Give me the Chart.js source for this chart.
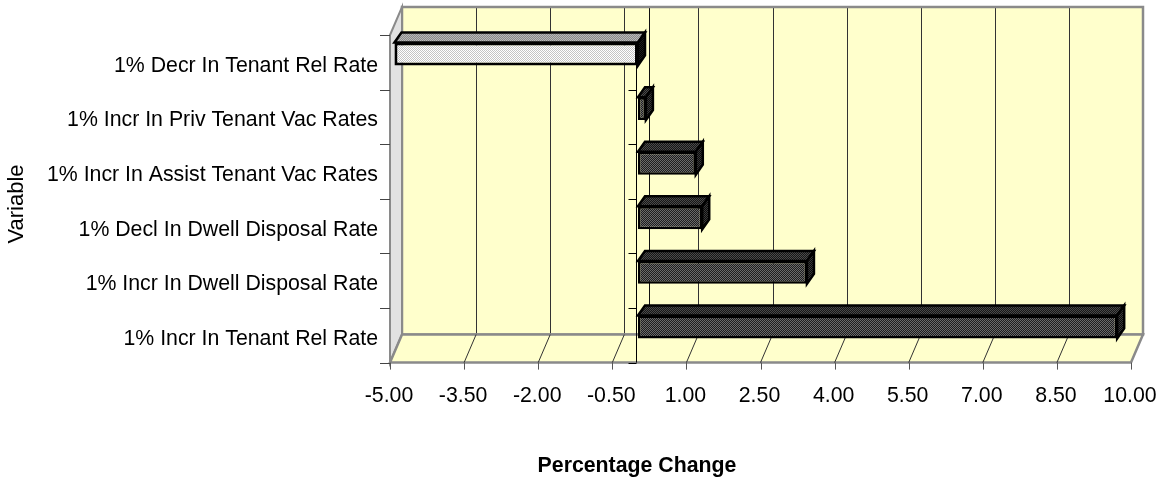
<!DOCTYPE html>
<html><head><meta charset="utf-8">
<script src="https://cdn.jsdelivr.net/npm/chart.js@4.4.1/dist/chart.umd.min.js"></script>
<style>html,body{margin:0;padding:0;background:#fff}#wrap{width:1169px;height:481px;position:relative}</style>
</head><body><div id="wrap"><canvas id="c" width="1169" height="481"></canvas></div>
<script>
// ---- data ----
const categories = [
  '1% Decr In Tenant Rel Rate',
  '1% Incr In Priv Tenant Vac Rates',
  '1% Incr In Assist Tenant Vac Rates',
  '1% Decl In Dwell Disposal Rate',
  '1% Incr In Dwell Disposal Rate',
  '1% Incr In Tenant Rel Rate'
];
const values = [-4.93, 0.16, 1.17, 1.30, 3.42, 9.70];
const xTickValues = [-5, -3.5, -2, -0.5, 1, 2.5, 4, 5.5, 7, 8.5, 10];
const xTitle = 'Percentage Change';
const yTitle = 'Variable';

// ---- styling ----
const FONT = '"Liberation Sans", Arial, sans-serif';
const FRONT = {dx: -1, dy: 8.3};
const BACK = {dx: 11, dy: -19.7};
const DEPTH = {dx: 7, dy: -10};

const canvas = document.getElementById('c');
const ctx0 = canvas.getContext('2d');
function pattern(c1, c2) {
  const p = document.createElement('canvas'); p.width = 2; p.height = 2;
  const g = p.getContext('2d');
  g.fillStyle = c1; g.fillRect(0, 0, 2, 2);
  g.fillStyle = c2; g.fillRect(0, 0, 1, 1); g.fillRect(1, 1, 1, 1);
  return ctx0.createPattern(p, 'repeat');
}
const light = {front: pattern('#ffffff', '#c4c4c4'), top: pattern('#8a8a8a', '#b8b8b8'), side: pattern('#000000', '#1c1c1c')};
const dark = {front: pattern('#1e1e1e', '#6a6a6a'), top: pattern('#161616', '#4a4a4a'), side: pattern('#0a0a0a', '#3a3a3a')};
const styleFor = v => v < 0 ? light : dark;

function line(ctx, x1, y1, x2, y2) { ctx.beginPath(); ctx.moveTo(x1, y1); ctx.lineTo(x2, y2); ctx.stroke(); }
function poly(ctx, pts, fill, stroke, lw) {
  ctx.beginPath(); ctx.moveTo(pts[0][0], pts[0][1]);
  for (let i = 1; i < pts.length; i++) ctx.lineTo(pts[i][0], pts[i][1]);
  ctx.closePath();
  if (fill) { ctx.fillStyle = fill; ctx.fill(); }
  if (stroke) { ctx.strokeStyle = stroke; ctx.lineWidth = lw; ctx.stroke(); }
}

const excel3d = {
  id: 'excel3d',
  beforeDatasetsDraw(chart) {
    const {ctx, chartArea: a, scales: {x, y}} = chart;
    const xs = xTickValues.map(v => x.getPixelForValue(v));
    const fL = a.left + FRONT.dx, fR = a.right + FRONT.dx, fT = a.top + FRONT.dy, fB = a.bottom + FRONT.dy;
    const bL = a.left + BACK.dx, bR = a.right + BACK.dx, bT = a.top + BACK.dy, bB = a.bottom + BACK.dy;
    ctx.save();
    // back wall
    ctx.fillStyle = '#FFFFCC'; ctx.fillRect(bL, bT, bR - bL, bB - bT);
    ctx.strokeStyle = '#333'; ctx.lineWidth = 1;
    xs.forEach((px, i) => {
      if (i === 0 || i === xs.length - 1) return;
      const X = Math.round(px + BACK.dx) + 0.5; line(ctx, X, bT, X, bB);
    });
    const bz = Math.round(x.getPixelForValue(0) + BACK.dx) + 0.5;
    ctx.strokeStyle = '#111'; line(ctx, bz, bT, bz, bB);
    ctx.strokeStyle = '#8a8a8a'; ctx.lineWidth = 2.5; ctx.strokeRect(bL, bT, bR - bL, bB - bT);
    // left wall
    poly(ctx, [[fL, fT], [bL, bT], [bL, bB], [fL, fB]], '#e2e2e2', '#8a8a8a', 2);
    // floor
    poly(ctx, [[bL, bB], [bR, bB], [fR, fB], [fL, fB]], '#FFFFCC', '#8a8a8a', 2.5);
    ctx.strokeStyle = '#333'; ctx.lineWidth = 1;
    xs.forEach((px, i) => {
      if (i === 0 || i === xs.length - 1) return;
      line(ctx, px + BACK.dx, bB, px + FRONT.dx, fB);
    });
    // floor front ticks
    ctx.strokeStyle = '#555'; ctx.lineWidth = 1;
    xs.forEach(px => { const X = Math.round(px + FRONT.dx) + 0.5; line(ctx, X, fB, X, fB + 7); });
    // category boundaries
    const band = y.getPixelForValue(1) - y.getPixelForValue(0);
    const bounds = categories.map((c, i) => y.getPixelForValue(i) - band / 2);
    bounds.push(y.getPixelForValue(categories.length - 1) + band / 2);
    const zx = Math.round(x.getPixelForValue(0) + FRONT.dx - 1) + 0.5;
    ctx.strokeStyle = '#000'; ctx.lineWidth = 1;
    line(ctx, zx, fT - 1, zx, fB);
    bounds.forEach(b => {
      const Y = Math.round(b + FRONT.dy) + 0.5;
      ctx.strokeStyle = '#000'; line(ctx, zx - 8, Y, zx, Y);
      ctx.strokeStyle = '#444'; line(ctx, fL - 10, Y, fL, Y);
    });
    // bar tops and sides
    const meta = chart.getDatasetMeta(0);
    meta.data.forEach((el, i) => {
      const st = styleFor(values[i]);
      const l = Math.min(el.x, el.base), r = Math.max(el.x, el.base);
      const t = el.y - el.height / 2, b = el.y + el.height / 2;
      poly(ctx, [[l, t], [l + DEPTH.dx, t + DEPTH.dy], [r + DEPTH.dx, t + DEPTH.dy], [r, t]], st.top, '#000', 2.5);
      poly(ctx, [[r, t], [r + DEPTH.dx, t + DEPTH.dy], [r + DEPTH.dx, b + DEPTH.dy], [r, b]], st.side, '#000', 2.5);
    });
    ctx.restore();
  },
  afterDraw(chart) {
    const {ctx} = chart;
    ctx.save();
    ctx.fillStyle = '#000';
    ctx.textAlign = 'center'; ctx.textBaseline = 'middle';
    ctx.font = 'bold 21.3px ' + FONT;
    ctx.fillText(xTitle, 637, 466);
    ctx.translate(17, 204); ctx.rotate(-Math.PI / 2);
    ctx.font = '22px ' + FONT;
    ctx.fillText(yTitle, 0, 0);
    ctx.restore();
  }
};

new Chart(canvas, {
  type: 'bar',
  data: {
    labels: categories,
    datasets: [{
      data: values,
      backgroundColor: values.map(v => styleFor(v).front),
      borderColor: '#000',
      borderWidth: values.map(v => v < 0 ? 3 : 2.5),
      borderSkipped: false,
      barPercentage: 0.42,
      categoryPercentage: 1
    }]
  },
  options: {
    indexAxis: 'y',
    responsive: false,
    animation: false,
    devicePixelRatio: 1,
    layout: {padding: {left: 0, right: 37, top: 26.7, bottom: 0}},
    plugins: {legend: {display: false}, tooltip: {enabled: false}},
    scales: {
      x: {
        type: 'linear', min: -5, max: 10,
        grid: {display: false, drawTicks: false}, border: {display: false},
        afterBuildTicks(s) { s.ticks = xTickValues.map(v => ({value: v})); },
        afterFit(s) { s.height = 126.7; s.paddingLeft = 0; s.paddingRight = 0; },
        ticks: {callback: v => Number(v).toFixed(2), color: '#000', font: {family: FONT, size: 21.3}, padding: 29, labelOffset: -2, maxRotation: 0, autoSkip: false}
      },
      y: {
        type: 'category',
        grid: {display: false, drawTicks: false}, border: {display: false},
        afterFit(s) { s.width = 391; s.paddingTop = 0; s.paddingBottom = 0; },
        ticks: {color: '#000', font: {family: FONT, size: 21.3}, padding: 13, labelOffset: 12, autoSkip: false}
      }
    }
  },
  plugins: [excel3d]
});
</script>
</body></html>
